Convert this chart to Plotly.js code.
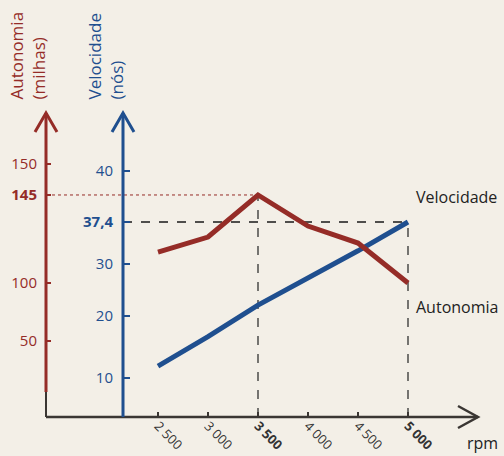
<!DOCTYPE html>
<html><head><meta charset="utf-8">
<script src="https://cdn.plot.ly/plotly-3.0.1.min.js"></script>
<style>html,body{margin:0;padding:0;background:#f3efe7;}</style>
</head><body><div id="chart" style="width:504px;height:456px;"></div>
<script>
// ---- data ----
const rpm = [2500, 3000, 3500, 4000, 4500, 5000];
const rpmLabels = ['2 500', '3 000', '<b>3 500</b>', '4 000', '4 500', '<b>5 000</b>'];
const velocidade = [11.9, 17.1, 22.7, 27.5, 32.3, 37.4];   // nós
const autonomia = [115.8, 123.5, 145, 129.1, 120.4, 100];  // milhas
const velTickLabels = ['10', '20', '30', '<b>37,4</b>', '40'];
const autTickLabels = ['50', '100', '<b>145</b>', '150'];
const velHighlight = 37.4;
const autHighlight = 145;

// ---- layout helpers (schematic axes as in the original) ----
const RED = '#952c27', BLUE = '#1f4f8f', DARK = '#3a3633', BG = '#f3efe7';
const L = 46, T = 113, W = 432, H = 304;
const px = x => (x - L) / W;
const py = y => (T + H - y) / H;
const xRange = [1380, 5700];
const velRange = [2.89, 56.69];
const autRange = [31.5, 186.9];
const velTickPos = [9.79, 20.76, 29.97, 37.4, 46.43];
const autTickPos = [70.3, 100, 145, 160.8];
const blueX = px(123);
const FONT = 'Open Sans, Noto Sans, sans-serif';

const traces = [
  {x: rpm, y: autonomia, yaxis: 'y2', type: 'scatter', mode: 'lines',
   line: {color: RED, width: 5}, hoverinfo: 'skip'},
  {x: rpm, y: velocidade, yaxis: 'y', type: 'scatter', mode: 'lines',
   line: {color: BLUE, width: 5}, hoverinfo: 'skip'}
];

function chevron(path, color, w) {
  return {type: 'path', xref: 'paper', yref: 'paper', path: path,
          line: {color: color, width: w}};
}
const shapes = [
  // dashed guides
  {type: 'line', xref: 'x', yref: 'y2', x0: xRange[0], x1: rpm[2], y0: autHighlight, y1: autHighlight,
   line: {color: RED, width: 1, dash: 'dot'}, layer: 'below'},
  {type: 'line', xref: 'x', yref: 'y2', x0: rpm[2], x1: rpm[2], y0: autRange[0], y1: autHighlight,
   line: {color: '#222', width: 1.2, dash: 'dash'}, layer: 'below'},
  {type: 'line', xref: 'paper', yref: 'y', x0: blueX, x1: px(409), y0: velHighlight, y1: velHighlight,
   line: {color: '#1a1a1a', width: 1.3, dash: 'dash'}, layer: 'below'},
  {type: 'line', xref: 'x', yref: 'y', x0: rpm[5], x1: rpm[5], y0: velRange[0], y1: velHighlight,
   line: {color: '#222', width: 1.2, dash: 'dash'}, layer: 'below'},
  // x axis
  {type: 'line', xref: 'paper', yref: 'paper', x0: 0, x1: 1, y0: 0, y1: 0, line: {color: DARK, width: 2.5}},
  chevron(`M ${1 - 20 / W} ${11 / H} L 1 0 L ${1 - 20 / W} ${-11 / H}`, DARK, 2.5),
  // red axis
  {type: 'line', xref: 'paper', yref: 'paper', x0: 0, x1: 0, y0: 0, y1: 25 / H, line: {color: DARK, width: 2}},
  {type: 'line', xref: 'paper', yref: 'paper', x0: 0, x1: 0, y0: 25 / H, y1: 1, line: {color: RED, width: 3}},
  chevron(`M ${-11 / W} ${1 - 19 / H} L 0 1 L ${11 / W} ${1 - 19 / H}`, RED, 3),
  // blue axis
  {type: 'line', xref: 'paper', yref: 'paper', x0: blueX, x1: blueX, y0: 0, y1: 1, line: {color: BLUE, width: 3}},
  chevron(`M ${blueX - 11 / W} ${1 - 19 / H} L ${blueX} 1 L ${blueX + 11 / W} ${1 - 19 / H}`, BLUE, 3)
];

const annotations = [
  {text: 'Autonomia<br>(milhas)', textangle: -90, align: 'left', showarrow: false,
   xref: 'paper', yref: 'paper', x: px(26.5), y: py(102), xanchor: 'center', yanchor: 'bottom',
   font: {family: FONT, size: 17, color: RED}},
  {text: 'Velocidade<br>(nós)', textangle: -90, align: 'left', showarrow: false,
   xref: 'paper', yref: 'paper', x: px(104.5), y: py(102), xanchor: 'center', yanchor: 'bottom',
   font: {family: FONT, size: 17, color: BLUE}},
  {text: 'Velocidade', showarrow: false, xref: 'paper', yref: 'paper', x: px(414), y: py(197),
   xanchor: 'left', yanchor: 'middle', font: {family: FONT, size: 16, color: '#222'}},
  {text: 'Autonomia', showarrow: false, xref: 'paper', yref: 'paper', x: px(414), y: py(307),
   xanchor: 'left', yanchor: 'middle', font: {family: FONT, size: 16, color: '#222'}},
  {text: 'rpm', showarrow: false, xref: 'paper', yref: 'paper', x: px(465), y: py(443),
   xanchor: 'left', yanchor: 'middle', font: {family: FONT, size: 16, color: '#222'}}
];

const layout = {
  width: 504, height: 456, autosize: false,
  margin: {l: L, r: 504 - L - W, t: T, b: 456 - T - H, pad: 0},
  paper_bgcolor: BG, plot_bgcolor: BG, showlegend: false,
  font: {family: FONT},
  xaxis: {range: xRange, tickvals: rpm, ticktext: rpmLabels, tickangle: 45,
          ticks: 'inside', ticklen: 5, tickwidth: 2, tickcolor: DARK, ticklabelstandoff: -2,
          showgrid: false, zeroline: false, showline: false,
          tickfont: {family: FONT, size: 13, color: '#333'}},
  yaxis: {range: velRange, anchor: 'free', position: blueX, side: 'left',
          tickvals: velTickPos, ticktext: velTickLabels,
          ticks: 'inside', ticklen: 6, tickwidth: 2.5, tickcolor: BLUE, ticklabelstandoff: 10,
          showgrid: false, zeroline: false, showline: false,
          tickfont: {family: FONT, size: 15, color: BLUE}},
  yaxis2: {range: autRange, overlaying: 'y', anchor: 'x', side: 'left',
           tickvals: autTickPos, ticktext: autTickLabels,
           ticks: 'inside', ticklen: 5, tickwidth: 2.5, tickcolor: RED, ticklabelstandoff: 8,
           showgrid: false, zeroline: false, showline: false,
           tickfont: {family: FONT, size: 15, color: RED}},
  shapes: shapes,
  annotations: annotations
};

Plotly.newPlot('chart', traces, layout, {displayModeBar: false, staticPlot: true});
</script>
</body></html>
